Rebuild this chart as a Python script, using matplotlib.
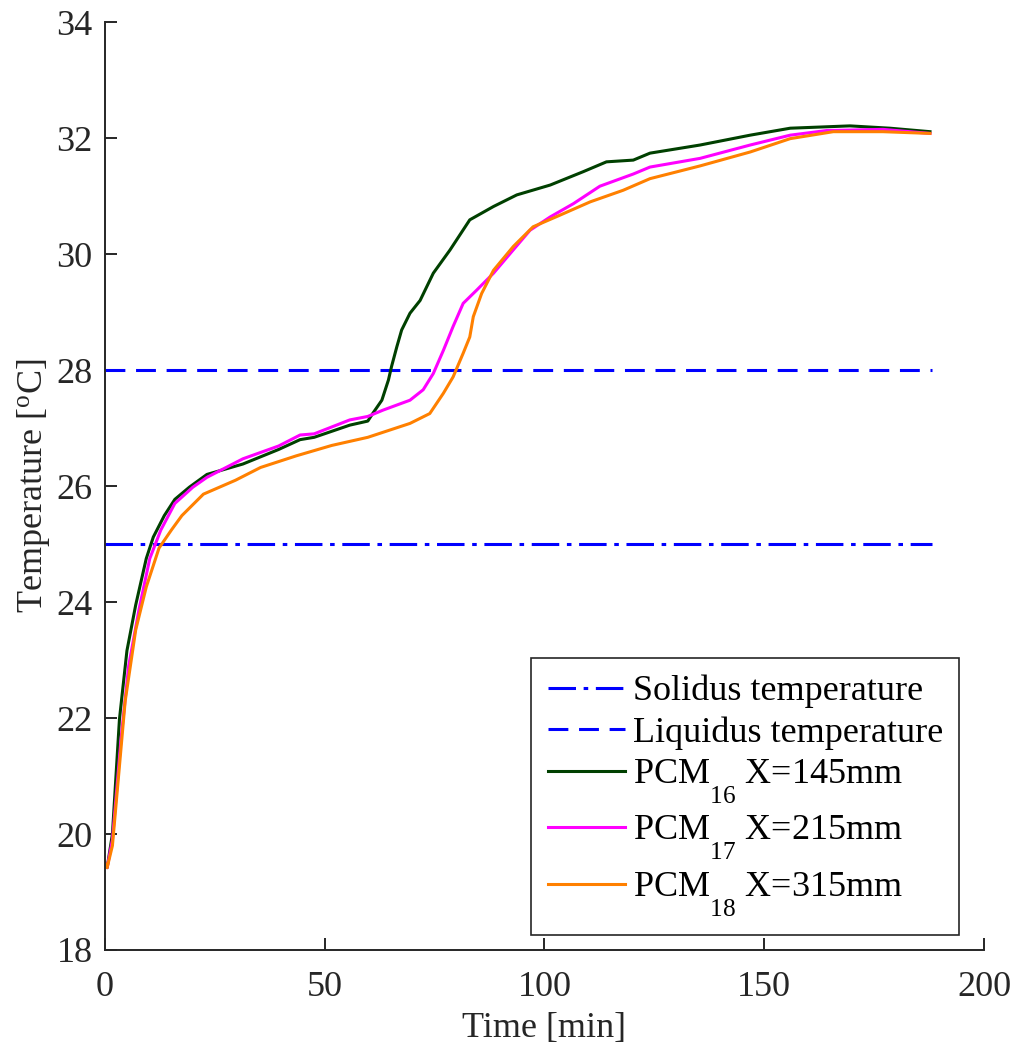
import numpy as np
import matplotlib.pyplot as plt
import matplotlib._mathtext as mathtext_internals

plt.rcParams['font.family'] = ['Liberation Serif', 'DejaVu Serif']
plt.rcParams['mathtext.fontset'] = 'custom'
plt.rcParams['mathtext.rm'] = 'Liberation Serif'
plt.rcParams['mathtext.it'] = 'Liberation Serif:italic'
# deeper subscripts, like the original figure
mathtext_internals.FontConstantsBase.sub1 = 1.2

SOLIDUS = 25.0
LIQUIDUS = 28.0
line_span = [0, 188.2]

t_16 = [0, 0.5, 1.7, 3.3, 5.0, 7.0, 9.4, 11.0, 13.5, 15.9, 19.2, 23.2, 31.4, 39.5,
        44.4, 47.6, 55.7, 59.8, 61, 63, 64.5, 65.2, 66.4, 67.5, 69.4, 71.7, 74.7,
        78.5, 83, 88.4, 93.7, 101.3, 108.8, 114.1, 120.2, 124, 135.4, 146.8, 155.9,
        169.5, 178.6, 187.7]
T_16 = [19.5, 19.42, 20.0, 21.98, 23.16, 23.95, 24.75, 25.12, 25.49, 25.77, 25.98,
        26.2, 26.38, 26.63, 26.8, 26.84, 27.05, 27.12, 27.26, 27.48, 27.83, 28.06,
        28.4, 28.69, 28.98, 29.2, 29.67, 30.07, 30.59, 30.82, 31.02, 31.19, 31.42,
        31.59, 31.62, 31.74, 31.88, 32.05, 32.17, 32.21, 32.17, 32.11]

t_17 = [0, 0.5, 1.7, 3.7, 5.4, 7.8, 10.2, 12.7, 15.9, 20, 23.2, 31.4, 39.5, 44.4,
        47.6, 55.7, 59.8, 63.3, 69.4, 72.4, 74.7, 77, 79.2, 81.5, 84.6, 88.4, 92.2,
        96.7, 101.3, 106.6, 112.6, 120.2, 124, 135.4, 146.8, 155.9, 164.2, 177, 187.7]
T_17 = [19.5, 19.42, 19.9, 21.67, 22.9, 23.89, 24.75, 25.24, 25.7, 25.98, 26.15,
        26.47, 26.69, 26.88, 26.9, 27.14, 27.2, 27.31, 27.48, 27.66, 27.94, 28.34,
        28.75, 29.15, 29.38, 29.67, 30.01, 30.41, 30.64, 30.87, 31.17, 31.38, 31.5,
        31.65, 31.88, 32.05, 32.13, 32.15, 32.08]

t_18 = [0, 0.5, 1.7, 4.6, 7.0, 9.4, 12.3, 15.1, 17.5, 22.4, 29.7, 35.4, 43.5, 51.6,
        59.8, 62.6, 69.4, 73.9, 77, 79.2, 81.5, 83, 83.8, 85.7, 88.4, 92.9, 97.4,
        103.5, 110.4, 117.9, 124, 135.4, 146.8, 155.9, 165.7, 177, 187.7]
T_18 = [19.5, 19.42, 19.8, 22.29, 23.52, 24.26, 24.93, 25.24, 25.49, 25.86, 26.1,
        26.32, 26.52, 26.7, 26.84, 26.91, 27.08, 27.25, 27.6, 27.88, 28.29, 28.57,
        28.92, 29.32, 29.72, 30.13, 30.47, 30.67, 30.9, 31.1, 31.3, 31.52, 31.76,
        31.99, 32.11, 32.11, 32.08]

fig = plt.figure(figsize=(10.15, 10.51), dpi=100)
ax = fig.add_axes([0.1034, 0.0961, 0.8661, 0.8829])

lw = 2.2
ax.plot(line_span, [SOLIDUS, SOLIDUS], color='#0000ff', lw=lw,
        dashes=(9, 2.5, 1.5, 2.5), label='Solidus temperature')
ax.plot(line_span, [LIQUIDUS, LIQUIDUS], color='#0000ff', lw=lw,
        dashes=(6.5, 3.5), label='Liquidus temperature')
ax.plot(t_16, T_16, color='#004000', lw=lw, label='PCM$_{16}$ X=145mm')
ax.plot(t_17, T_17, color='#ff00ff', lw=lw, label='PCM$_{17}$ X=215mm')
ax.plot(t_18, T_18, color='#ff8000', lw=lw, label='PCM$_{18}$ X=315mm')

ax.set_xlim(0, 200)
ax.set_ylim(18, 34)
ax.set_xticks(np.arange(0, 201, 50))
ax.set_yticks(np.arange(18, 35, 2))

for side in ['top', 'right']:
    ax.spines[side].set_visible(False)
for side in ['left', 'bottom']:
    ax.spines[side].set_linewidth(1.4)
    ax.spines[side].set_color('#262626')
ax.tick_params(direction='in', length=8.5, width=1.4, color='#262626',
               labelsize=26, labelcolor='#262626')
ax.tick_params(axis='x', pad=15)
ax.tick_params(axis='y', pad=9)

ax.set_xlabel('Time [min]', fontsize=26, color='#262626', labelpad=6)
ax.set_ylabel(r'Temperature [$^{\rm o}$C]', fontsize=26, color='#262626', labelpad=3)

leg = ax.legend(loc='lower right', bbox_to_anchor=(0.9716, 0.0162), borderaxespad=0,
                fontsize=26, frameon=True, fancybox=False, framealpha=1,
                handlelength=2.15, handletextpad=0.2, labelspacing=0.22,
                borderpad=0.45)
leg.get_frame().set_edgecolor('#262626')
leg.get_frame().set_linewidth(1.2)

fig.savefig('out.png', dpi=100)
